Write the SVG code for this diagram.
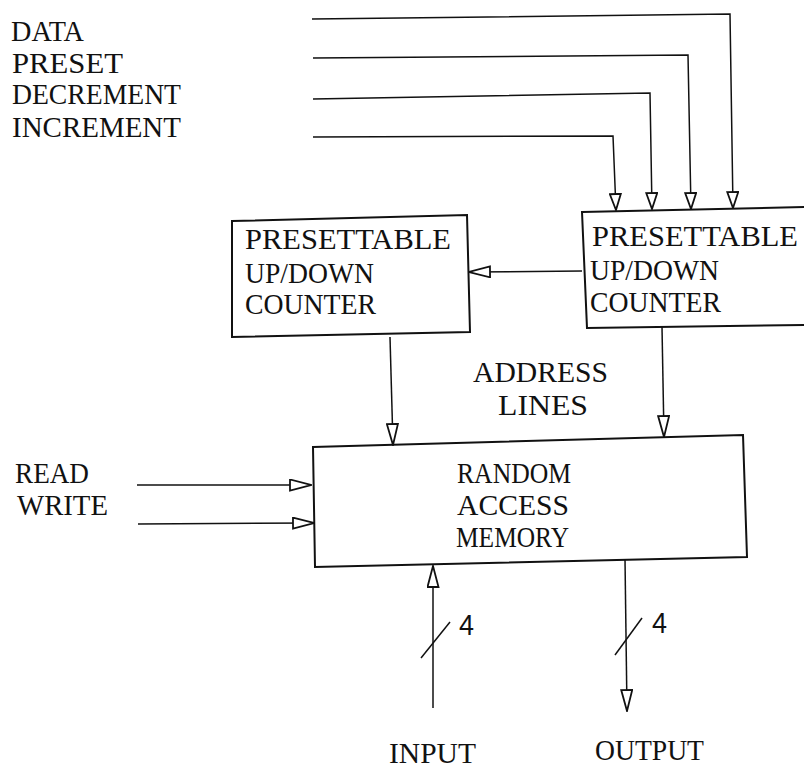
<svg xmlns="http://www.w3.org/2000/svg" width="804" height="768" viewBox="0 0 804 768">
<style>
.t{font-family:"Liberation Serif","Times New Roman",serif;font-size:29px;fill:#111}
.n{font-family:"Liberation Sans",Arial,sans-serif;font-size:29px;fill:#111}
.box{fill:none;stroke:#111;stroke-width:2}
.c{fill:none;stroke:#111;stroke-width:1.5}
</style>
<defs>
<marker id="ah" viewBox="0 0 23 13" refX="22" refY="6.5" markerWidth="23" markerHeight="13" markerUnits="userSpaceOnUse" orient="auto">
<path d="M1,1 L22,6.5 L1,12 Z" fill="#fff" stroke="#111" stroke-width="1.8"/>
</marker>
<marker id="ahs" viewBox="0 0 18 13" refX="17" refY="6.5" markerWidth="18" markerHeight="13" markerUnits="userSpaceOnUse" orient="auto">
<path d="M1,1 L17,6.5 L1,12 Z" fill="#fff" stroke="#111" stroke-width="1.8"/>
</marker>
</defs>
<rect width="804" height="768" fill="#fff"/>

<g id="labels">
<text class="t" x="11" y="41" textLength="73" lengthAdjust="spacingAndGlyphs">DATA</text>
<text class="t" x="12" y="73" textLength="111" lengthAdjust="spacingAndGlyphs">PRESET</text>
<text class="t" x="12" y="104" textLength="169" lengthAdjust="spacingAndGlyphs">DECREMENT</text>
<text class="t" x="12" y="137" textLength="169" lengthAdjust="spacingAndGlyphs">INCREMENT</text>
<text class="t" x="15" y="483" textLength="74" lengthAdjust="spacingAndGlyphs">READ</text>
<text class="t" x="17" y="515" textLength="91" lengthAdjust="spacingAndGlyphs">WRITE</text>
<text class="t" x="473" y="382" textLength="135" lengthAdjust="spacingAndGlyphs">ADDRESS</text>
<text class="t" x="498" y="415" textLength="90" lengthAdjust="spacingAndGlyphs">LINES</text>
<text class="t" x="389" y="763" textLength="87" lengthAdjust="spacingAndGlyphs">INPUT</text>
<text class="t" x="595" y="760" textLength="109" lengthAdjust="spacingAndGlyphs">OUTPUT</text>
<text class="n" x="459" y="635" textLength="15" lengthAdjust="spacingAndGlyphs">4</text>
<text class="n" x="652" y="633" textLength="15" lengthAdjust="spacingAndGlyphs">4</text>
</g>

<g id="counter-left">
<polygon class="box" points="232,221 467,215 470,332 232,337"/>
<text class="t" x="245" y="249" textLength="206" lengthAdjust="spacingAndGlyphs">PRESETTABLE</text>
<text class="t" x="245" y="283" textLength="129" lengthAdjust="spacingAndGlyphs">UP/DOWN</text>
<text class="t" x="245" y="314" textLength="131" lengthAdjust="spacingAndGlyphs">COUNTER</text>
</g>

<g id="counter-right">
<polygon class="box" points="582,212 808,207 808,325 587,328"/>
<text class="t" x="592" y="246" textLength="206" lengthAdjust="spacingAndGlyphs">PRESETTABLE</text>
<text class="t" x="590" y="280" textLength="129" lengthAdjust="spacingAndGlyphs">UP/DOWN</text>
<text class="t" x="590" y="312" textLength="131" lengthAdjust="spacingAndGlyphs">COUNTER</text>
</g>

<g id="ram">
<polygon class="box" points="313,447 743,435 747,557 315,567"/>
<text class="t" x="457" y="483" textLength="114" lengthAdjust="spacingAndGlyphs">RANDOM</text>
<text class="t" x="457" y="515" textLength="112" lengthAdjust="spacingAndGlyphs">ACCESS</text>
<text class="t" x="456" y="547" textLength="113" lengthAdjust="spacingAndGlyphs">MEMORY</text>
</g>

<g id="connectors">
<polyline class="c" points="312,19 730,14 733,208" marker-end="url(#ahs)"/>
<polyline class="c" points="313,58 688,55 691,209" marker-end="url(#ahs)"/>
<polyline class="c" points="313,99 650,93 652,209" marker-end="url(#ahs)"/>
<polyline class="c" points="313,137 613,136 616,210" marker-end="url(#ahs)"/>
<line class="c" x1="582" y1="271" x2="469" y2="272" marker-end="url(#ah)"/>
<line class="c" x1="390" y1="337" x2="393" y2="445" marker-end="url(#ah)"/>
<line class="c" x1="662" y1="327" x2="664" y2="437" marker-end="url(#ah)"/>
<line class="c" x1="137" y1="485" x2="311" y2="485" marker-end="url(#ah)"/>
<line class="c" x1="138" y1="524" x2="314" y2="523" marker-end="url(#ah)"/>
<line class="c" x1="433" y1="708" x2="433" y2="566" marker-end="url(#ah)"/>
<line class="c" x1="625" y1="559" x2="627" y2="711" marker-end="url(#ah)"/>
<line class="c" x1="421" y1="658" x2="450" y2="622"/>
<line class="c" x1="615" y1="655" x2="642" y2="618"/>
</g>
</svg>
